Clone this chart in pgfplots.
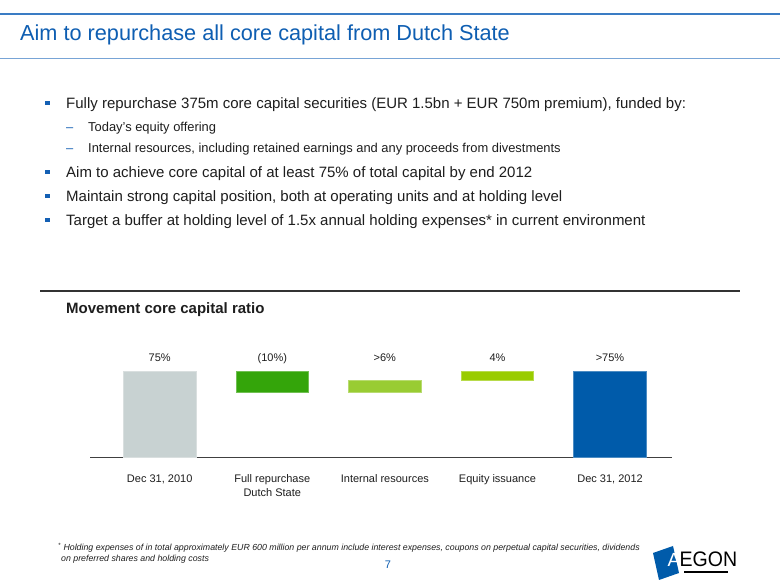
\documentclass[border=0pt]{standalone}
\usepackage{pgfplots}
\pgfplotsset{compat=1.18}
\usepackage{fontspec}
\setmainfont{Liberation Sans}
\definecolor{titleblue}{RGB}{14,94,178}
\definecolor{topline}{RGB}{58,124,196}
\definecolor{subline}{RGB}{120,164,214}
\definecolor{bulblue}{RGB}{20,96,180}
\definecolor{txt}{RGB}{30,30,30}
\definecolor{barA}{RGB}{200,210,210}
\definecolor{barB}{RGB}{52,165,10}
\definecolor{barC}{RGB}{153,204,51}
\definecolor{barD}{RGB}{153,204,0}
\definecolor{barE}{RGB}{0,91,170}
\newcommand{\mainbul}[2]{%
  \fill[bulblue] (45.3,{585-#1-2.2}) rectangle ++(4.4,4.6);
  \node[anchor=base west, inner sep=0, font=\fontsize{15}{17}\selectfont, text=txt] at (66,{585-#1-5.3}) {#2};}
\newcommand{\subbul}[2]{%
  \node[anchor=base west, inner sep=0, font=\fontsize{12.9}{14}\selectfont, text=bulblue] at (66,{585-#1-4.6}) {--};
  \node[anchor=base west, inner sep=0, font=\fontsize{12.9}{14}\selectfont, text=txt] at (88,{585-#1-4.6}) {#2};}
\begin{document}
\begin{tikzpicture}[x=1pt,y=1pt]
\path[use as bounding box, fill=white] (0,0) rectangle (780,585);
\draw[line width=2pt, topline] (0,571) -- (780,571);
\draw[line width=1pt, subline] (0,526) -- (780,526);
\node[anchor=base west, inner sep=0, font=\fontsize{21.7}{24}\selectfont, text=titleblue] at (20,544.3) {Aim to repurchase all core capital from Dutch State};
\mainbul{103}{Fully repurchase 375m core capital securities (EUR 1.5bn + EUR 750m premium), funded by:}
\subbul{127}{Today’s equity offering}
\subbul{148}{Internal resources, including retained earnings and any proceeds from divestments}
\mainbul{172}{Aim to achieve core capital of at least 75\% of total capital by end 2012}
\mainbul{196}{Maintain strong capital position, both at operating units and at holding level}
\mainbul{220}{Target a buffer at holding level of 1.5x annual holding expenses* in current environment}
\draw[line width=1.4pt, black!80] (40,294) -- (740,294);
\node[anchor=base west, inner sep=0, font=\fontsize{15}{17}\selectfont\bfseries, text=txt] at (66,271.5) {Movement core capital ratio};
\begin{axis}[
  at={(90pt,127.7pt)}, anchor=south west,
  scale only axis, width=582.3pt, height=85.6pt,
  ybar stacked, bar width=72.5pt,
  xmin=-0.619, xmax=4.553, ymin=0, ymax=75,
  axis y line=none, axis x line*=bottom,
  x axis line style={line width=1.2pt, black!75, -},
  xtick=data, xtick style={draw=none},
  xticklabels={{Dec 31, 2010}, {Full repurchase\\Dutch State}, {Internal resources}, {Equity issuance}, {Dec 31, 2012}},
  xticklabel style={align=center, font=\fontsize{11}{13.5}\selectfont, text=txt, yshift=-14pt},
  clip=false,
]
\addplot[draw=none, fill=none] coordinates {(0,0) (1,56.6) (2,56.6) (3,67.5) (4,0)};
\addplot[draw=barA!70!white, line width=0.6pt, fill=barA] coordinates {(0,75) (1,0) (2,0) (3,0) (4,0)};
\addplot[draw=barB!70!white, line width=0.6pt, fill=barB] coordinates {(0,0) (1,18.4) (2,0) (3,0) (4,0)};
\addplot[draw=barC!70!white, line width=0.6pt, fill=barC] coordinates {(0,0) (1,0) (2,10.9) (3,0) (4,0)};
\addplot[draw=barD!70!white, line width=0.6pt, fill=barD] coordinates {(0,0) (1,0) (2,0) (3,7.5) (4,0)};
\addplot[draw=barE!70!white, line width=0.6pt, fill=barE] coordinates {(0,0) (1,0) (2,0) (3,0) (4,75)};
\node[anchor=base, inner sep=0, font=\fontsize{11}{13}\selectfont, text=txt, yshift=10.5pt] at (axis cs:0,75) {75\%};
\node[anchor=base, inner sep=0, font=\fontsize{11}{13}\selectfont, text=txt, yshift=10.5pt] at (axis cs:1,75) {(10\%)};
\node[anchor=base, inner sep=0, font=\fontsize{11}{13}\selectfont, text=txt, yshift=10.5pt] at (axis cs:2,75) {>6\%};
\node[anchor=base, inner sep=0, font=\fontsize{11}{13}\selectfont, text=txt, yshift=10.5pt] at (axis cs:3,75) {4\%};
\node[anchor=base, inner sep=0, font=\fontsize{11}{13}\selectfont, text=txt, yshift=10.5pt] at (axis cs:4,75) {>75\%};
\end{axis}
\node[anchor=base west, inner sep=0, font=\fontsize{8.8}{10}\selectfont\itshape, text=txt] at (58,34) {\textsuperscript{*} Holding expenses of in total approximately EUR 600 million per annum include interest expenses, coupons on perpetual capital securities, dividends};
\node[anchor=base west, inner sep=0, font=\fontsize{8.8}{10}\selectfont\itshape, text=txt] at (61,23) {on preferred shares and holding costs};
\node[anchor=base, inner sep=0, font=\fontsize{11}{13}\selectfont, text=titleblue] at (388,16) {7};
\fill[barE] (653,32) -- (673,39) -- (679,12) -- (659,5) -- cycle;
\node[anchor=base, inner sep=0, font=\fontsize{19}{20}\selectfont, text=white] at (674,18) {A};
\node[anchor=base west, inner sep=0, font=\fontsize{21}{23}\selectfont, text=black, xscale=0.93] at (679.5,18) {EGON};
\draw[line width=1.5pt, black] (684,13) -- (728,13);
\end{tikzpicture}
\end{document}
